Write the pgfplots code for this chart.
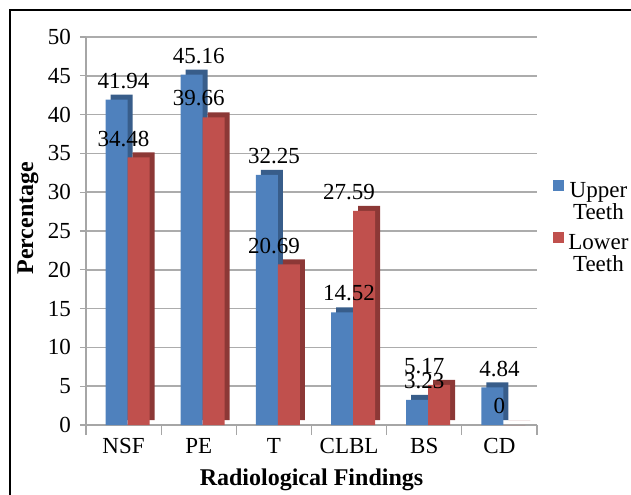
\documentclass[border=0pt]{standalone}
\usepackage{pgfplots}
\pgfplotsset{compat=1.18}
\usepackage{pgfplotstable}
\usepackage{fontspec}
\setmainfont{Liberation Serif}
\definecolor{ublue}{HTML}{4F81BD}
\definecolor{ubluedark}{HTML}{385D8A}
\definecolor{lred}{HTML}{C0504D}
\definecolor{lreddark}{HTML}{8C3836}
\pgfplotsset{/pgf/number format/assume math mode=true}
\pgfplotstableread{
idx upper lower
0 41.94 34.48
1 45.16 39.66
2 32.25 20.69
3 14.52 27.59
4 3.23 5.17
5 4.84 0
}\datatable
\begin{document}
\begin{tikzpicture}
\useasboundingbox (0,0) rectangle (315.5pt,247pt);
\draw[black, line width=1pt] (5pt,-5pt) -- (5pt,242pt) -- (320pt,242pt);
\begin{axis}[
  at={(43pt,34.5pt)}, anchor=south west,
  scale only axis, width=225.5pt, height=194pt,
  xmin=-0.5, xmax=5.5, ymin=0, ymax=50,
  ytick={0,5,...,50},
  xtick={0,...,5}, xticklabels={NSF,PE,T,CLBL,BS,CD},
  minor xtick={-0.5,0.5,...,5.5},
  every major x tick/.append style={draw=none},
  tick align=outside,
  minor tick length=5pt,
  major tick length=3pt,
  tick style={gray!70, line width=0.6pt},
  axis x line*=bottom, axis y line*=left,
  axis line style={gray!70, line width=0.8pt},
  ymajorgrids, major grid style={gray!65, line width=0.8pt},
  every tick label/.append style={font=\fontsize{11.5}{13}\selectfont},
  xticklabel style={yshift=0pt},
  yticklabel style={xshift=-1pt},
  xlabel={\textbf{Radiological Findings}},
  ylabel={\textbf{Percentage}},
  label style={font=\fontsize{12}{14}\selectfont},
  xlabel style={at={(axis description cs:0.5,-0.142)}, anchor=center},
  ylabel style={at={(axis description cs:-0.1286,0.533)}, anchor=center},
  bar width=11pt,
  nodes near coords style={font=\fontsize{11.5}{13}\selectfont, yshift=2pt},
  legend style={draw=none, fill=none, at={(1.0355,0.645)}, anchor=north west,
    inner sep=0pt, row sep=11.5pt, font=\fontsize{11.5}{13}\selectfont},
  legend image code/.code={\fill[#1] (0pt,-0.5pt) rectangle (5.5pt,5pt);},
]
\addplot[ybar, bar shift=-3.5pt, fill=ubluedark, draw=none, xshift=2.5pt, yshift=2.5pt, forget plot]
  table[x=idx,y=upper]{\datatable};
\addplot[ybar, bar shift=7.5pt, fill=lreddark, draw=none, xshift=2.5pt, yshift=2.5pt, forget plot]
  table[x=idx,y=lower]{\datatable};
\addplot[ybar, bar shift=-3.5pt, fill=ublue, draw=none, nodes near coords]
  table[x=idx,y=upper]{\datatable};
\addplot[ybar, bar shift=7.5pt, fill=lred, draw=none, nodes near coords]
  table[x=idx,y=lower]{\datatable};
\legend{{\begin{tabular}[t]{@{}c@{}}Upper\\[-2pt]Teeth\end{tabular}},
        {\begin{tabular}[t]{@{}c@{}}Lower\\[-2pt]Teeth\end{tabular}}}
\end{axis}
\end{tikzpicture}
\end{document}
